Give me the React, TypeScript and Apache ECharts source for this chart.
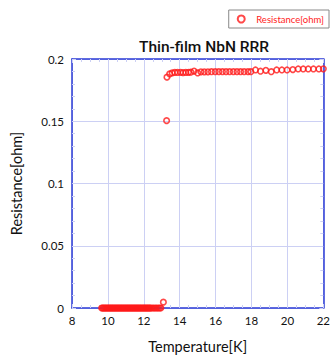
import React, { useEffect, useRef } from "react";
import * as echarts from "echarts";

const lowTemps = [
  9.65, 9.7, 9.75, 9.8, 9.85, 9.9, 9.95, 10.0, 10.05, 10.1, 10.15, 10.2, 10.25, 10.3,
  10.35, 10.4, 10.45, 10.5, 10.55, 10.6, 10.65, 10.7, 10.75, 10.8, 10.85, 10.9, 10.95,
  11.0, 11.05, 11.1, 11.15, 11.2, 11.25, 11.3, 11.35, 11.4, 11.45, 11.5, 11.55, 11.6,
  11.65, 11.7, 11.75, 11.8, 11.85, 11.9, 11.95, 12.0, 12.05, 12.1, 12.15, 12.2, 12.25,
  12.3, 12.35, 12.4, 12.48, 12.56, 12.64, 12.72, 12.8, 12.88, 12.95,
];
const lowValues = lowTemps.map(() => 0);

const highTemps = [
  13.09, 13.27, 13.29, 13.44, 13.58, 13.73, 13.88, 14.05, 14.19, 14.34, 14.49, 14.62,
  14.8, 15.0, 15.18, 15.37, 15.57, 15.77, 15.98, 16.18, 16.38, 16.58, 16.78, 16.99,
  17.19, 17.39, 17.59, 17.8, 17.96, 18.22, 18.5, 18.8, 19.1, 19.4, 19.69, 19.98, 20.3,
  20.6, 20.88, 21.16, 21.45, 21.75, 22.0,
];
const highValues = [
  0.0047, 0.1505, 0.1854, 0.188, 0.1888, 0.1892, 0.1892, 0.1893, 0.1891, 0.1892, 0.1893,
  0.1894, 0.1903, 0.1888, 0.1897, 0.1897, 0.1897, 0.1898, 0.1898, 0.1898, 0.1898, 0.1898,
  0.1898, 0.1898, 0.1898, 0.1898, 0.1898, 0.1898, 0.1898, 0.1912, 0.1902, 0.1909, 0.1898,
  0.1912, 0.1912, 0.1912, 0.1915, 0.192, 0.192, 0.192, 0.192, 0.192, 0.1921,
];

const xTicks = [8, 10, 12, 14, 16, 18, 20, 22];
const yTicks = [0, 0.05, 0.1, 0.15, 0.2];

const FONT = "Lato";
const AXIS_BLUE = "#2b3bd6";
const GRID_BLUE = "#ccd0f4";

export default function App() {
  const ref = useRef<HTMLDivElement>(null);
  useEffect(() => {
    if (!ref.current) return;
    const chart = echarts.init(ref.current, null, { renderer: "svg" });
    const data = [
      ...lowTemps.map((t, i) => [t, lowValues[i]]),
      ...highTemps.map((t, i) => [t, highValues[i]]),
    ];
    const baseX = {
      type: "value" as const,
      min: xTicks[0],
      max: xTicks[xTicks.length - 1],
      interval: 2,
      axisLine: { show: true, onZero: false, lineStyle: { color: AXIS_BLUE, width: 1.5 } },
      axisTick: { show: true, inside: true, length: 4, lineStyle: { color: GRID_BLUE } },
      minorTick: { show: true, splitNumber: 4, length: 3, lineStyle: { color: GRID_BLUE } },
    };
    const baseY = {
      type: "value" as const,
      min: yTicks[0],
      max: yTicks[yTicks.length - 1],
      interval: 0.05,
      axisLine: { show: true, onZero: false, lineStyle: { color: AXIS_BLUE, width: 1.5 } },
      axisTick: { show: true, inside: true, length: 4, lineStyle: { color: GRID_BLUE } },
      minorTick: { show: true, splitNumber: 5, length: 3, lineStyle: { color: GRID_BLUE } },
    };
    chart.setOption({
      animation: false,
      textStyle: { fontFamily: FONT },
      title: {
        text: "Thin-film NbN RRR",
        left: 199,
        textAlign: "center",
        top: 34,
        textStyle: { fontFamily: "Roboto", fontSize: 15.5, fontWeight: 500, color: "#111" },
      },
      legend: {
        right: 4,
        top: 10,
        data: ["Resistance[ohm]"],
        borderColor: "#888",
        borderWidth: 1,
        borderRadius: 0,
        padding: [4, 5, 4, 8],
        itemWidth: 20,
        itemHeight: 7,
        itemGap: 6,
        textStyle: { color: "#ff2222", fontSize: 9.5, fontFamily: FONT },
      },
      grid: { left: 72, right: 7, top: 59, bottom: 44 },
      xAxis: [
        {
          ...baseX,
          position: "bottom",
          name: "Temperature[K]",
          nameLocation: "middle",
          nameGap: 31,
          nameTextStyle: { fontFamily: FONT, fontSize: 14.5, color: "#111" },
          axisLabel: { fontFamily: FONT, fontSize: 11.5, color: "#111", margin: 6 },
          splitLine: { show: true, lineStyle: { color: GRID_BLUE, width: 1 } },
        },
        {
          ...baseX,
          position: "top",
          axisLabel: { show: false },
          splitLine: { show: false },
        },
      ],
      yAxis: [
        {
          ...baseY,
          position: "left",
          name: "Resistance[ohm]",
          nameLocation: "middle",
          nameGap: 48,
          nameTextStyle: { fontFamily: FONT, fontSize: 14.5, color: "#111" },
          axisLabel: { fontFamily: FONT, fontSize: 11.5, color: "#111", margin: 8 },
          splitLine: { show: true, lineStyle: { color: GRID_BLUE, width: 1 } },
        },
        {
          ...baseY,
          position: "right",
          axisLabel: { show: false },
          splitLine: { show: false },
        },
      ],
      series: [
        {
          name: "Resistance[ohm]",
          type: "scatter",
          data,
          clip: false,
          symbol: "circle",
          symbolSize: 5.5,
          itemStyle: { color: "rgba(255,255,255,0)", borderColor: "#ff1a1a", borderWidth: 1.6 },
        },
      ],
    });
    return () => chart.dispose();
  }, []);
  return <div ref={ref} style={{ width: 333, height: 359, position: "absolute", left: 0, top: 0 }} />;
}
